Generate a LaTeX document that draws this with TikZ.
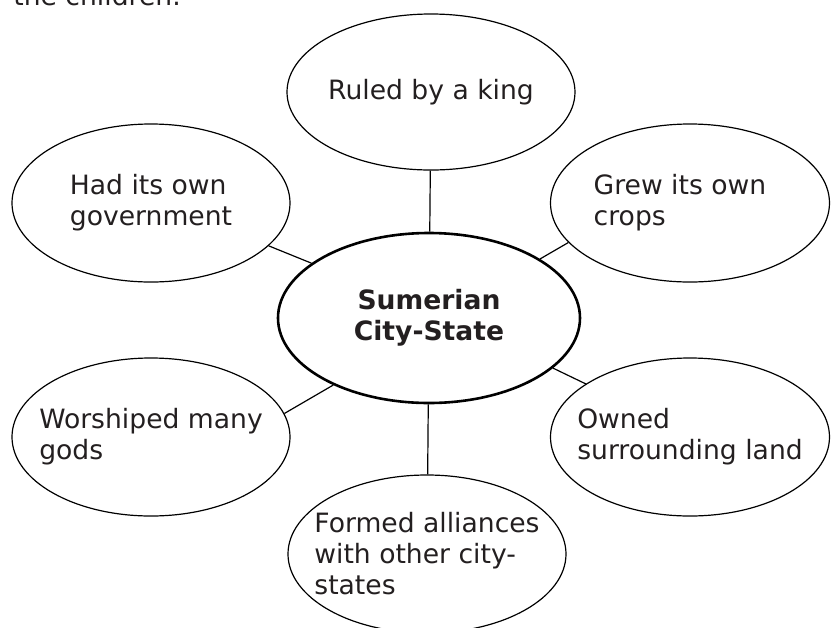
\documentclass[tikz,border=0pt]{standalone}
\usepackage{fontspec}
\setmainfont{DejaVu Sans}
\usetikzlibrary{shapes.geometric}
\definecolor{inkgray}{HTML}{231F20}
\tikzset{
  idea/.style={draw, ellipse, inner sep=0pt, line width=0.6pt, minimum width=139pt, minimum height=79pt},
  hub/.style={draw, ellipse, inner sep=0pt, line width=1.3pt, minimum width=151pt, minimum height=85pt},
  txt/.style={text=inkgray, align=left, font=\fontsize{13.3}{15.5}\selectfont},
  hubtxt/.style={text=inkgray, align=center, font=\fontsize{13.3}{15.5}\selectfont\bfseries},
  spoke/.style={line width=0.6pt}
}
\begin{document}
\begin{tikzpicture}[x=0.5pt,y=-0.5pt]
    \useasboundingbox (0,0) rectangle (832,628);
    % Line cut off at the top
    \node[txt, anchor=base west, inner sep=0pt] (intro) at (13,5) {the children.};

    % Center
    \node[hub, label={[hubtxt]center:{Sumerian\\City-State}}] (city) at (429,318) {};

    % Ideas
    \node[idea, minimum width=144pt, minimum height=78pt, label={[txt]center:Ruled by a king}] (king) at (431,92) {};
    \node[idea, label={[txt]center:{Had its own\\government}}] (had) at (151,203) {};
    \node[idea, minimum width=139.5pt, label={[txt, xshift=-5pt]center:{Grew its own\\crops}}] (grew) at (690,203) {};
    \node[idea, label={[txt]center:{Worshiped many\\gods}}] (wor) at (151,437) {};
    \node[idea, minimum width=139.5pt, label={[txt]center:{Owned\\surrounding land}}] (owned) at (690,437) {};
    \node[idea, label={[txt]center:{Formed alliances\\with other city-\\states}}] (formed) at (427,554) {};

    % Spokes
    \draw[spoke] (king) -- (city);
    \draw[spoke] (had.-20) -- (city.155);
    \draw[spoke] (grew.198) -- (city.28);
    \draw[spoke] (wor.10) -- (city.215);
    \draw[spoke] (owned.153) -- (city.-22);
    \draw[spoke] (city) -- (formed);
\end{tikzpicture}
\end{document}
